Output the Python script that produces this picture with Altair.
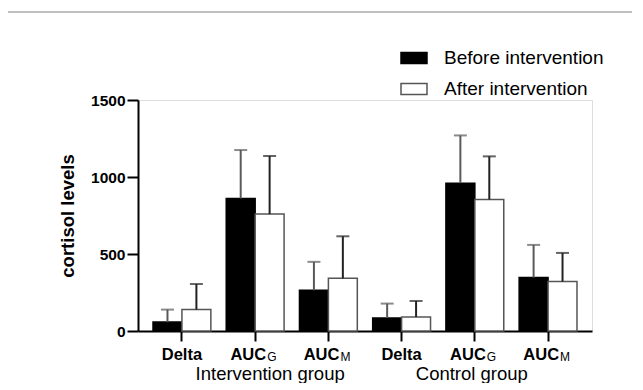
import altair as alt
import pandas as pd

# ---- data ----
keys = ["I-Delta", "I-AUCG", "I-AUCM", "C-Delta", "C-AUCG", "C-AUCM"]
groups = ["Intervention group"] * 3 + ["Control group"] * 3
main_text = ["Delta", "AUC", "AUC", "Delta", "AUC", "AUC"]
sub_text = ["", "G", "M", "", "G", "M"]
series_names = ["Before intervention", "After intervention"]
before_mean = [58, 860, 264, 85, 960, 347]
before_sd = [81, 315, 185, 93, 310, 212]
after_mean = [139, 759, 342, 91, 854, 321]
after_sd = [166, 377, 273, 104, 280, 186]

rows = []
for i, k in enumerate(keys):
    rows.append(dict(key=k, group=groups[i], series=series_names[0],
                     mean=before_mean[i], top=before_mean[i] + before_sd[i]))
    rows.append(dict(key=k, group=groups[i], series=series_names[1],
                     mean=after_mean[i], top=after_mean[i] + after_sd[i]))
df = pd.DataFrame(rows)

lab = pd.DataFrame(dict(key=keys, group=groups, main=main_text, sub=sub_text))

FONT = "Liberation Sans"
W, H = 454, 231
PAD_B = 52

xenc = alt.X("key:N", sort=keys,
             scale=alt.Scale(paddingInner=0.21, paddingOuter=0.205),
             axis=alt.Axis(title=None, labels=False, ticks=True, tickSize=10,
                           tickWidth=2, tickColor="black", domainColor="black",
                           domainWidth=2, grid=False))
xoff = alt.XOffset("series:N", sort=series_names,
                   scale=alt.Scale(paddingInner=0, paddingOuter=0))
yenc = alt.Y("mean:Q", scale=alt.Scale(domain=[0, 1500], nice=False),
             axis=alt.Axis(title="cortisol levels", values=[0, 500, 1000, 1500],
                           format="d",
                           tickSize=11, tickWidth=2, tickColor="black",
                           domainColor="black", domainWidth=2, grid=False,
                           labelFont=FONT, labelFontSize=15.5, labelFontWeight="bold",
                           labelColor="black", labelPadding=2,
                           titleFont=FONT, titleFontSize=18.5, titleFontWeight="bold",
                           titleColor="black", titlePadding=13))

legend_spec = dict(title=None, orient="none", legendX=262, legendY=-56,
                   symbolType="M-1,-0.42H1V0.42H-1Z", symbolSize=676,
                   symbolStrokeWidth=1.5, labelFont=FONT,
                   labelFontSize=19, labelColor="black",
                   labelOffset=16, rowPadding=7)

base = alt.Chart(df)

bars = base.mark_bar(strokeWidth=1.5).encode(
    x=xenc, xOffset=xoff, y=yenc,
    fill=alt.Fill("series:N", sort=series_names,
                  scale=alt.Scale(domain=series_names, range=["black", "white"]),
                  legend=alt.Legend(**legend_spec)),
    stroke=alt.Stroke("series:N", sort=series_names,
                      scale=alt.Scale(domain=series_names, range=["black", "#555555"]),
                      legend=alt.Legend(**legend_spec)),
)

def err_layers(name, color):
    sub = base.transform_filter(alt.datum.series == name)
    rule = sub.mark_rule(color=color, strokeWidth=2).encode(
        x=alt.X("key:N", sort=keys), xOffset=xoff,
        y=alt.Y("mean:Q"), y2="top:Q")
    cap = sub.mark_tick(color=color, orient="horizontal", size=13, thickness=2).encode(
        x=alt.X("key:N", sort=keys), xOffset=xoff, y=alt.Y("top:Q"))
    return rule + cap

err_b = err_layers(series_names[0], "#5a5a5a")
err_a = err_layers(series_names[1], "#222222")

lbase = alt.Chart(lab)
delta_t = lbase.transform_filter(alt.datum.sub == "").mark_text(
    font=FONT, fontSize=16.5, fontWeight="bold", color="black", align="center",
    baseline="alphabetic").encode(x=alt.X("key:N", sort=keys), y=alt.value(H + 29),
                                  text="main:N")
auc_t = lbase.transform_filter(alt.datum.sub != "").mark_text(
    font=FONT, fontSize=16.5, fontWeight="bold", color="black", align="right",
    baseline="alphabetic", dx=11).encode(x=alt.X("key:N", sort=keys),
                                          y=alt.value(H + 29), text="main:N")
sub_t = lbase.transform_filter(alt.datum.sub != "").mark_text(
    font=FONT, fontSize=12, color="black", align="left",
    baseline="alphabetic", dx=12).encode(x=alt.X("key:N", sort=keys),
                                          y=alt.value(H + 30), text="sub:N")
grp_i = lbase.transform_filter(alt.datum.key == "I-AUCG").mark_text(
    font=FONT, fontSize=18.5, color="black", align="center", baseline="alphabetic",
    dx=15).encode(x=alt.X("key:N", sort=keys), y=alt.value(H + 49), text="group:N")
grp_c = lbase.transform_filter(alt.datum.key == "C-AUCG").mark_text(
    font=FONT, fontSize=18.5, color="black", align="center", baseline="alphabetic",
    dx=-3).encode(x=alt.X("key:N", sort=keys), y=alt.value(H + 49), text="group:N")

# decorative top border line of the figure panel
frame_t = lbase.transform_filter(alt.datum.key == "I-Delta").mark_rule(
    color="#c0c0c0", strokeWidth=2).encode(x=alt.value(-130), x2=alt.value(W + 40),
                                           y=alt.value(-88))

chart = alt.layer(frame_t, bars, err_b, err_a, delta_t, auc_t, sub_t,
                  grp_i, grp_c).properties(
    width=W, height=H,
    autosize=alt.AutoSizeParams(type="none"),
    padding={"left": 130, "top": 92, "right": 40, "bottom": PAD_B},
).configure_view(stroke=None).configure(background="white")

chart.save("out.html", embed_options={"renderer": "svg", "actions": False})
